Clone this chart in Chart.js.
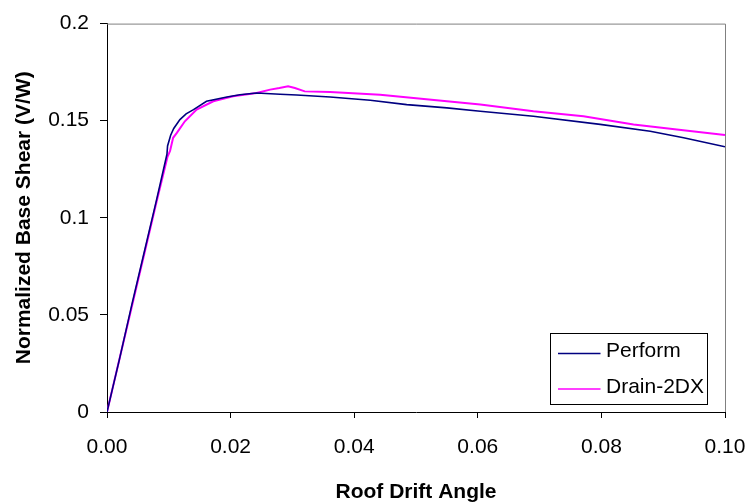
<!DOCTYPE html>
<html>
<head>
<meta charset="utf-8">
<script src="https://cdn.jsdelivr.net/npm/chart.js@4"></script>
<style>
  html, body { margin: 0; padding: 0; background: #ffffff; }
  #wrap { width: 751px; height: 503px; position: relative; }
</style>
</head>
<body>
<div id="wrap"><canvas id="c" width="751" height="503"></canvas></div>
<script>
// ---- data ----
const seriesNames = ['Perform', 'Drain-2DX'];

const performX = [0, 0.002, 0.004, 0.006, 0.008, 0.0097, 0.0098, 0.0103, 0.0108, 0.0118, 0.0128, 0.0140, 0.0161, 0.0194, 0.0215, 0.0242, 0.0280, 0.0307, 0.0361, 0.0426, 0.0485, 0.0550, 0.0604, 0.0690, 0.0798, 0.0879, 0.0933, 0.1000];
const performY = [0, 0.027, 0.055, 0.082, 0.109, 0.1327, 0.1370, 0.1425, 0.1460, 0.1506, 0.1535, 0.1557, 0.1600, 0.1622, 0.1634, 0.1643, 0.1636, 0.1632, 0.1622, 0.1605, 0.1583, 0.1566, 0.1549, 0.1523, 0.1481, 0.1446, 0.1412, 0.1366];

const drainX = [0, 0.002, 0.004, 0.006, 0.008, 0.0098, 0.0102, 0.0107, 0.0113, 0.0126, 0.0145, 0.0172, 0.0204, 0.0242, 0.0264, 0.0279, 0.0293, 0.0304, 0.0320, 0.0361, 0.0442, 0.0496, 0.0550, 0.0604, 0.0690, 0.0771, 0.0852, 0.0922, 0.1000];
const drainY = [0, 0.027, 0.054, 0.081, 0.108, 0.1315, 0.1344, 0.1412, 0.1437, 0.1497, 0.1557, 0.1600, 0.1626, 0.1643, 0.1660, 0.1668, 0.1677, 0.1668, 0.1651, 0.1648, 0.1634, 0.1617, 0.1600, 0.1583, 0.1549, 0.1523, 0.1481, 0.1455, 0.1426];

const xTicks = [0, 0.02, 0.04, 0.06, 0.08, 0.10];
const xTickLabels = ['0.00', '0.02', '0.04', '0.06', '0.08', '0.10'];
const yTicks = [0, 0.05, 0.1, 0.15, 0.2];
const yTickLabels = ['0', '0.05', '0.1', '0.15', '0.2'];

const xTitle = 'Roof Drift Angle';
const yTitle = 'Normalized Base Shear (V/W)';

const colors = ['#000080', '#FF00FF'];

function pts(xs, ys) { return xs.map((x, i) => ({ x: x, y: ys[i] })); }

const FONT = 'Liberation Sans, Arial, sans-serif';

// frame (top & right border) + legend box
const framePlugin = {
  id: 'frame',
  afterDatasetsDraw(chart) {
    const { ctx, chartArea: a } = chart;
    ctx.save();
    ctx.strokeStyle = '#808080';
    ctx.lineWidth = 1;
    ctx.beginPath();
    ctx.moveTo(a.left, a.top + 0.5);
    ctx.lineTo(a.right + 0.5, a.top + 0.5);
    ctx.lineTo(a.right + 0.5, a.bottom);
    ctx.stroke();

    // legend
    const bx = a.right - 174.5, by = a.bottom - 78.5, bw = 157, bh = 71;
    ctx.fillStyle = '#ffffff';
    ctx.fillRect(bx, by, bw, bh);
    ctx.strokeStyle = '#000000';
    ctx.strokeRect(bx, by, bw, bh);
    ctx.font = '21px ' + FONT;
    ctx.textBaseline = 'middle';
    ctx.textAlign = 'left';
    chart.data.datasets.forEach((ds, i) => {
      const ly = by + 20 + i * 35.5;
      ctx.strokeStyle = ds.borderColor;
      ctx.lineWidth = 1.6;
      ctx.beginPath();
      ctx.moveTo(bx + 7.5, ly);
      ctx.lineTo(bx + 50, ly);
      ctx.stroke();
      ctx.fillStyle = '#000000';
      ctx.fillText(ds.label, bx + 55.5, ly - 2);
    });
    ctx.restore();
  }
};

new Chart(document.getElementById('c'), {
  type: 'line',
  data: {
    datasets: [
      { label: seriesNames[0], data: pts(performX, performY), borderColor: colors[0], backgroundColor: colors[0], borderWidth: 1.6, pointRadius: 0, tension: 0, fill: false },
      { label: seriesNames[1], data: pts(drainX, drainY), borderColor: colors[1], backgroundColor: colors[1], borderWidth: 2, pointRadius: 0, tension: 0, fill: false }
    ]
  },
  options: {
    responsive: false,
    animation: false,
    events: [],
    layout: { padding: { top: 22, right: 0, bottom: 0, left: 0 } },
    plugins: {
      legend: { display: false },
      tooltip: { enabled: false }
    },
    scales: {
      x: {
        type: 'linear',
        min: 0, max: 0.1,
        afterFit(s) { s.height = 91; s.paddingRight = 26; s.paddingLeft = 0; },
        afterBuildTicks(s) { s.ticks = xTicks.map(v => ({ value: v })); },
        ticks: {
          callback: (v) => { const i = xTicks.findIndex(t => Math.abs(t - v) < 1e-9); return i >= 0 ? xTickLabels[i] : ''; },
          color: '#000000', font: { family: FONT, size: 21 }, padding: 17, maxRotation: 0, autoSkip: false
        },
        grid: { drawOnChartArea: false, drawTicks: true, tickLength: 6, color: '#000000', lineWidth: 1 },
        border: { display: true, color: '#000000', width: 1 },
        title: { display: true, text: xTitle, color: '#000000', font: { family: FONT, size: 21, weight: 'bold', lineHeight: 1.0 }, padding: { top: 0, bottom: 0 } }
      },
      y: {
        type: 'linear',
        min: 0, max: 0.2,
        afterFit(s) { s.width = 107; },
        afterBuildTicks(s) { s.ticks = yTicks.map(v => ({ value: v })); },
        ticks: {
          callback: (v) => { const i = yTicks.findIndex(t => Math.abs(t - v) < 1e-9); return i >= 0 ? yTickLabels[i] : ''; },
          color: '#000000', font: { family: FONT, size: 21 }, padding: 11, autoSkip: false
        },
        grid: { drawOnChartArea: false, drawTicks: true, tickLength: 7, color: '#000000', lineWidth: 1 },
        border: { display: true, color: '#000000', width: 1 },
        title: { display: true, text: yTitle, color: '#000000', font: { family: FONT, size: 21, weight: 'bold' }, padding: { top: 12, bottom: 0 } }
      }
    }
  },
  plugins: [framePlugin]
});
</script>
</body>
</html>
